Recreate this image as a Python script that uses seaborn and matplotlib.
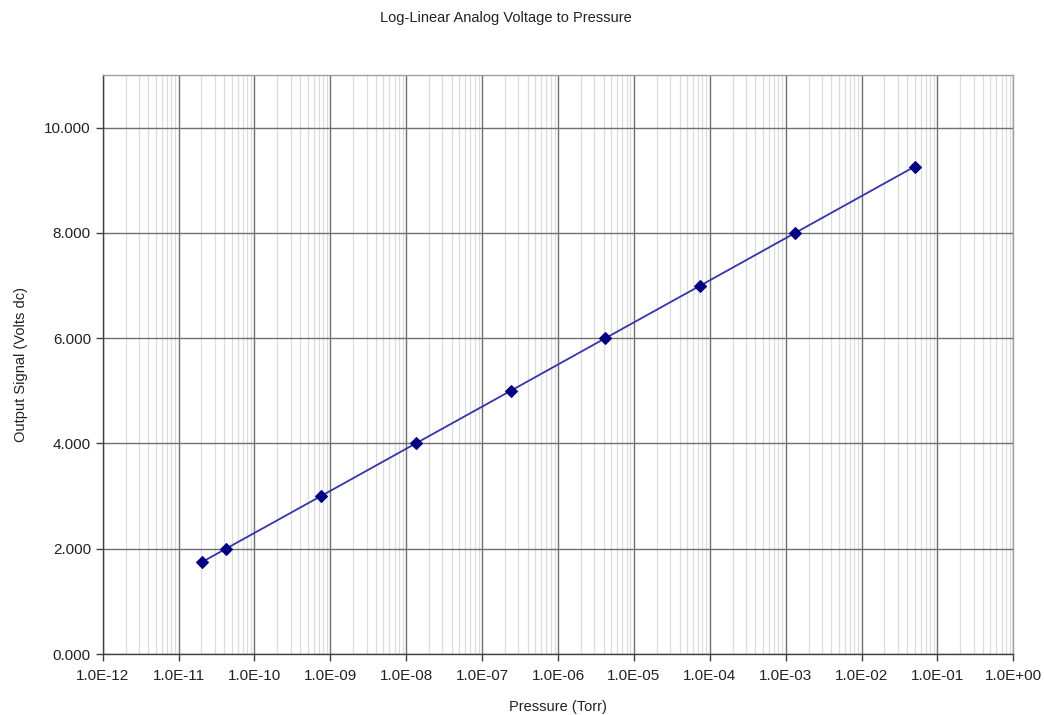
import numpy as np
import pandas as pd
import matplotlib
matplotlib.use("Agg")
import matplotlib.pyplot as plt
import matplotlib.ticker as mticker
import seaborn as sns

# Values
pressure_torr = [2.05e-11, 4.2e-11, 7.5e-10, 1.33e-8, 2.37e-7, 4.2e-6, 7.5e-5, 1.33e-3, 5.0e-2]
output_volts = [1.75, 2.0, 3.0, 4.0, 5.0, 6.0, 7.0, 8.0, 9.26]

df = pd.DataFrame({"Pressure": pressure_torr, "Signal": output_volts})

sns.set_style("white")
plt.rcParams["font.family"] = ["Liberation Sans", "DejaVu Sans"]

fig = plt.figure(figsize=(10.44, 7.15), dpi=100)
ax = fig.add_axes([0.0984, 0.0853, 0.8722, 0.8097])

sns.lineplot(data=df, x="Pressure", y="Signal", color="#3535a8", linewidth=1.3,
             marker="D", markersize=6, markerfacecolor="#000080", markeredgecolor="#000080",
             ax=ax, zorder=3)

ax.set_xscale("log")
ax.set_xlim(1e-12, 1e0)
ax.set_ylim(0, 11)

# Ticks and grid
ax.xaxis.set_major_locator(mticker.LogLocator(base=10, numticks=20))
ax.xaxis.set_minor_locator(mticker.LogLocator(base=10, subs=np.arange(2, 10), numticks=200))
ax.xaxis.set_major_formatter(mticker.FuncFormatter(lambda v, p: f"{v:.1E}"))
ax.xaxis.set_minor_formatter(mticker.NullFormatter())
ax.set_yticks(np.arange(0, 11, 2))
ax.yaxis.set_major_formatter(mticker.FuncFormatter(lambda v, p: f"{v:.3f}"))

ax.grid(which="major", axis="both", color="#707070", linewidth=1.0)
ax.grid(which="minor", axis="x", color="#dcdcdc", linewidth=0.9)
ax.set_axisbelow(True)

ax.tick_params(axis="both", which="major", direction="out", length=5, width=1,
               color="#404040", labelsize=11, labelcolor="#222222", bottom=True, left=True)
ax.tick_params(axis="x", which="minor", length=0)
ax.tick_params(axis="x", pad=6)

for side in ["left", "bottom"]:
    ax.spines[side].set_color("#404040")
    ax.spines[side].set_linewidth(1.0)
for side in ["top", "right"]:
    ax.spines[side].set_color("#a0a0a0")
    ax.spines[side].set_linewidth(1.0)

ax.set_xlabel("Pressure (Torr)", fontsize=10.5, color="#222222", labelpad=12)
ax.set_ylabel("Output Signal (Volts dc)", fontsize=10.5, color="#222222", labelpad=12)
fig.text(0.485, 0.975, "Log-Linear Analog Voltage to Pressure", ha="center", va="center",
         fontsize=10.5, color="#222222")

fig.savefig("out.png", dpi=100)
